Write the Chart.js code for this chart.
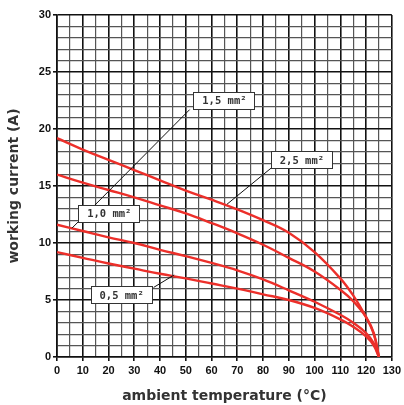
<!DOCTYPE html>
<html>
<head>
<meta charset="utf-8">
<script src="https://cdn.jsdelivr.net/npm/chart.js@4/dist/chart.umd.min.js"></script>
<style>
  html, body { margin: 0; padding: 0; background: #fff; }
  #wrap { width: 404px; height: 405px; }
</style>
</head>
<body>
<div id="wrap"><canvas id="myChart" width="404" height="405"></canvas></div>
<script>
// ambient temperature (°C) sample points
const temps = [0, 10, 20, 30, 40, 50, 60, 70, 80, 90, 100, 110, 115, 120, 123, 125];
// working current (A) per cross-section
const cur25 = [19.2, 18.2, 17.3, 16.4, 15.5, 14.6, 13.8, 12.95, 12.0, 10.9, 9.2, 6.9, 5.4, 3.5, 2.0, 0];
const cur15 = [16.0, 15.3, 14.65, 14.0, 13.3, 12.6, 11.75, 10.85, 9.85, 8.7, 7.5, 5.9, 4.9, 3.5, 2.1, 0];
const cur10 = [11.6, 11.05, 10.5, 10.0, 9.4, 8.85, 8.25, 7.6, 6.8, 5.85, 4.85, 3.7, 3.0, 2.1, 1.2, 0];
const cur05 = [9.2, 8.7, 8.2, 7.75, 7.3, 6.9, 6.45, 6.0, 5.5, 5.0, 4.3, 3.3, 2.65, 1.8, 1.0, 0];
const seriesNames = ['2,5 mm²', '1,5 mm²', '1,0 mm²', '0,5 mm²'];

// callout boxes: text, box centre and leader line (data units)
const callouts = [
  { text: '1,5 mm²', x: 64.8, y: 22.5, from: [51.5, 21.7], to: [5.8, 11.3] },
  { text: '2,5 mm²', x: 94.9, y: 17.3, from: [83.3, 16.6], to: [66.0, 13.4] },
  { text: '1,0 mm²', x: 20.1, y: 12.6, from: null, to: null },
  { text: '0,5 mm²', x: 24.9, y: 5.45, from: [37.5, 6.1], to: [45.5, 7.2] }
];

function pts(ys) {
  return temps.map((t, i) => ({ x: t, y: ys[i] }));
}

const calloutPlugin = {
  id: 'callouts',
  afterDatasetsDraw(chart) {
    const ctx = chart.ctx;
    const xs = chart.scales.x, ys = chart.scales.y;
    ctx.save();
    ctx.strokeStyle = '#111';
    ctx.lineWidth = 1;
    callouts.forEach(c => {
      if (!c.from) return;
      ctx.beginPath();
      ctx.moveTo(xs.getPixelForValue(c.from[0]), ys.getPixelForValue(c.from[1]));
      ctx.lineTo(xs.getPixelForValue(c.to[0]), ys.getPixelForValue(c.to[1]));
      ctx.stroke();
    });
    ctx.font = 'bold 10.5px "DejaVu Sans Mono", monospace';
    ctx.textAlign = 'center';
    ctx.textBaseline = 'middle';
    callouts.forEach(c => {
      const cx = xs.getPixelForValue(c.x), cy = ys.getPixelForValue(c.y);
      const w = 61, h = 17;
      ctx.fillStyle = '#fff';
      ctx.fillRect(Math.round(cx - w / 2) + 0.5, Math.round(cy - h / 2) + 0.5, w, h);
      ctx.strokeStyle = '#333';
      ctx.strokeRect(Math.round(cx - w / 2) + 0.5, Math.round(cy - h / 2) + 0.5, w, h);
      ctx.fillStyle = '#333';
      ctx.fillText(c.text, cx + 0.5, cy + 1);
    });
    ctx.restore();
  }
};

const ctx = document.getElementById('myChart').getContext('2d');
const lineStyle = { borderColor: '#ec2f2a', borderWidth: 2.4, pointRadius: 0, fill: false, tension: 0.4 };
const tickFont = { family: 'Liberation Sans, Arial, sans-serif', size: 11, weight: 'bold' };
const titleFont = { family: 'DejaVu Sans, Verdana, sans-serif', size: 14, weight: 'bold' };

const myChart = new Chart(ctx, {
  type: 'line',
  data: {
    datasets: [
      Object.assign({ label: seriesNames[0], data: pts(cur25) }, lineStyle),
      Object.assign({ label: seriesNames[1], data: pts(cur15) }, lineStyle),
      Object.assign({ label: seriesNames[2], data: pts(cur10) }, lineStyle),
      Object.assign({ label: seriesNames[3], data: pts(cur05) }, lineStyle)
    ]
  },
  options: {
    responsive: false,
    animation: false,
    layout: { padding: { top: 15, right: 10, left: 0, bottom: 0 } },
    plugins: { legend: { display: false }, tooltip: { enabled: false } },
    scales: {
      x: {
        type: 'linear',
        min: 0,
        max: 130,
        afterFit(scale) { scale.height = 48; },
        ticks: {
          stepSize: 5,
          autoSkip: false,
          maxRotation: 0,
          padding: 3,
          color: '#111',
          font: tickFont,
          callback: v => (v % 10 === 0 ? String(v) : '')
        },
        grid: {
          color: c => (c.tick && c.tick.value % 10 === 0 ? '#111' : '#555'),
          lineWidth: c => (c.tick && c.tick.value % 10 === 0 ? 1.6 : 1.2),
          tickLength: 4,
          tickColor: c => (c.tick && c.tick.value % 10 === 0 ? '#111' : 'rgba(0,0,0,0)')
        },
        border: { color: '#111', width: 1.6 },
        title: {
          display: true,
          text: 'ambient temperature (°C)',
          color: '#333',
          font: titleFont,
          padding: { top: 4, bottom: 0 }
        }
      },
      y: {
        min: 0,
        max: 30,
        afterFit(scale) { scale.width = 57; },
        ticks: {
          stepSize: 1,
          autoSkip: false,
          padding: 2,
          color: '#111',
          font: tickFont,
          callback: v => (v % 5 === 0 ? String(v) : '')
        },
        grid: {
          color: c => (c.tick && c.tick.value % 5 === 0 ? '#111' : '#555'),
          lineWidth: c => (c.tick && c.tick.value % 5 === 0 ? 1.6 : 1.2),
          tickLength: 4,
          tickColor: c => (c.tick && c.tick.value % 5 === 0 ? '#111' : 'rgba(0,0,0,0)')
        },
        border: { color: '#111', width: 1.6 },
        title: {
          display: true,
          text: 'working current (A)',
          color: '#333',
          font: titleFont,
          padding: { top: 6, bottom: 4 }
        }
      }
    }
  },
  plugins: [calloutPlugin]
});
</script>
</body>
</html>
